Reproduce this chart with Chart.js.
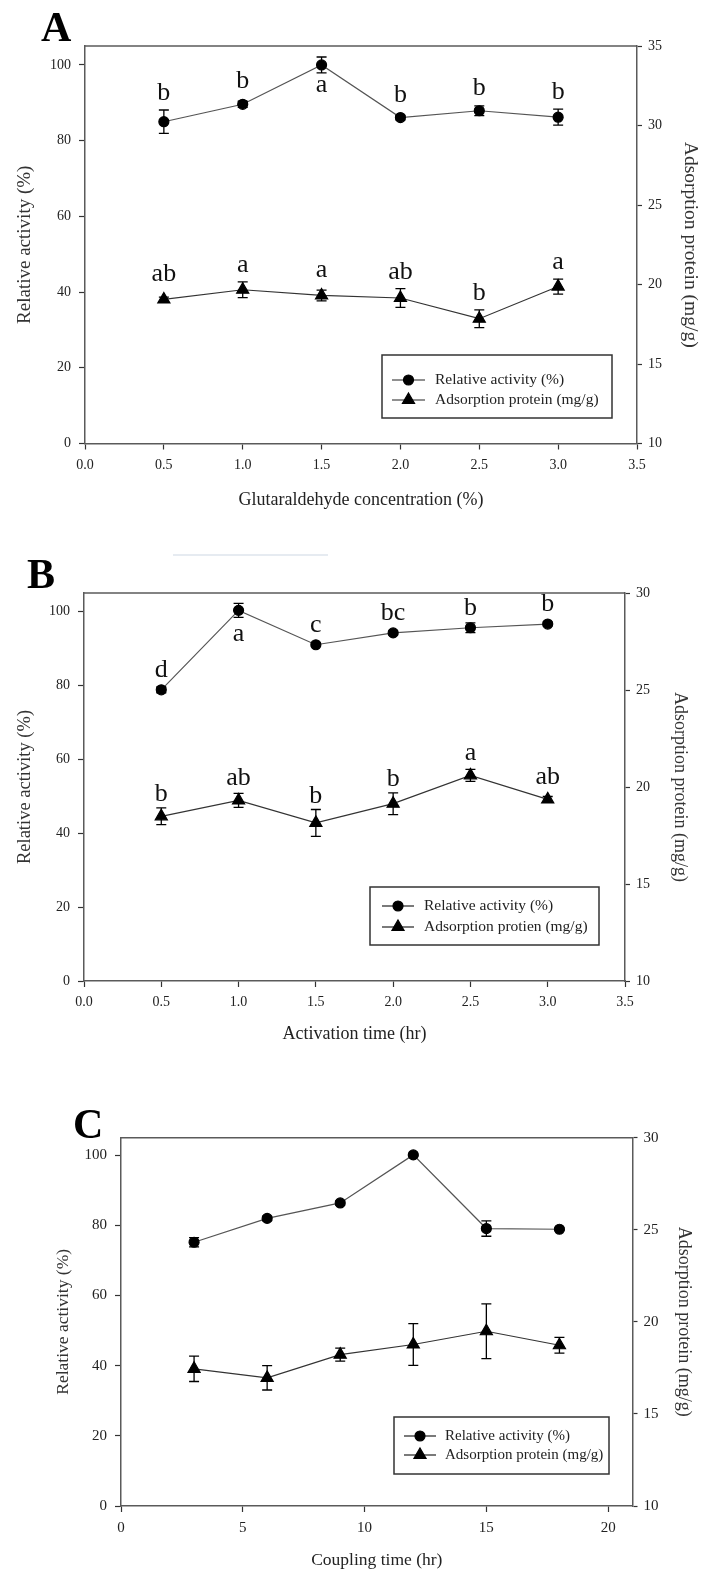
<!DOCTYPE html>
<html>
<head>
<meta charset="utf-8">
<title>Relative activity and adsorption protein</title>
<script src="https://cdn.jsdelivr.net/npm/chart.js@4.4.1/dist/chart.umd.min.js"></script>
<style>
  body { margin: 0; background: #fff; }
  #page { position: relative; width: 704px; height: 1571px; overflow: hidden; font-family: 'Liberation Serif', 'Times New Roman', serif; }
  canvas { position: absolute; left: 0; }
  .panel-label { position: absolute; font-weight: bold; font-size: 42px; line-height: 1; color: #000; }
  .smudge { position: absolute; left: 173px; top: 554px; width: 155px; height: 2px; background: #e6ebf1; }
</style>
</head>
<body>
<div id="page">
  <canvas id="chartA" width="704" height="530" style="top:0px"></canvas>
  <canvas id="chartB" width="704" height="510" style="top:540px"></canvas>
  <canvas id="chartC" width="704" height="511" style="top:1060px"></canvas>
  <div class="smudge"></div>
  <div class="panel-label" style="left:41px; top:6px">A</div>
  <div class="panel-label" style="left:27px; top:553px">B</div>
  <div class="panel-label" style="left:73px; top:1103px">C</div>
</div>
<script>
// Panel A - glutaraldehyde concentration
const concA = [0.5, 1.0, 1.5, 2.0, 2.5, 3.0];
const activityA = [85.0, 89.6, 100.0, 86.1, 87.9, 86.2];
const activityErrA = [3.1, 0.8, 2.1, 0.6, 1.3, 2.1];
const activityLetA = ['b', 'b', 'a', 'b', 'b', 'b'];
const proteinA = [19.06, 19.67, 19.31, 19.15, 17.85, 19.87];
const proteinErrA = [0.15, 0.49, 0.34, 0.59, 0.56, 0.47];
const proteinLetA = ['ab', 'a', 'a', 'ab', 'b', 'a'];

// Panel B - activation time
const timeB = [0.5, 1.0, 1.5, 2.0, 2.5, 3.0];
const activityB = [78.8, 100.3, 91.0, 94.2, 95.6, 96.6];
const activityErrB = [0.8, 1.9, 0.4, 0.5, 1.3, 0.5];
const activityLetB = ['d', 'a', 'c', 'bc', 'b', 'b'];
const proteinB = [18.49, 19.31, 18.15, 19.14, 20.6, 19.36];
const proteinErrB = [0.43, 0.36, 0.69, 0.56, 0.31, 0.15];
const proteinLetB = ['b', 'ab', 'b', 'b', 'a', 'ab'];

// Panel C - coupling time
const timeC = [3, 6, 9, 12, 15, 18];
const activityC = [75.2, 82.0, 86.4, 100.1, 79.1, 78.9];
const activityErrC = [1.3, 0.6, 0.6, 0.3, 2.2, 0.4];
const proteinC = [17.45, 16.96, 18.22, 18.77, 19.49, 18.73];
const proteinErrC = [0.69, 0.66, 0.35, 1.13, 1.49, 0.43];

const SERIF = "'Liberation Serif', 'Times New Roman', serif";
const AXIS_COLOR = '#5a5a5a';

function drawMarker(ctx, style, r, x, y) {
    if (Chart.helpers && Chart.helpers.drawPoint) {
        Chart.helpers.drawPoint(ctx, { pointStyle: style, radius: r, rotation: 0, borderWidth: 1 }, x, y);
        return;
    }
    ctx.beginPath();
    if (style === 'triangle') {
        ctx.moveTo(x, y - r);
        ctx.lineTo(x + r * 0.866, y + r / 2);
        ctx.lineTo(x - r * 0.866, y + r / 2);
        ctx.closePath();
    } else {
        ctx.arc(x, y, r, 0, Math.PI * 2);
    }
    ctx.fill();
    ctx.stroke();
}

const errorBars = {
    id: 'errorBars',
    afterDatasetsDraw(chart) {
        const ctx = chart.ctx;
        ctx.save();
        ctx.strokeStyle = '#000';
        ctx.lineWidth = 1.3;
        chart.data.datasets.forEach((ds, i) => {
            const meta = chart.getDatasetMeta(i);
            const yScale = chart.scales[ds.yAxisID];
            meta.data.forEach((pt, j) => {
                const v = ds.data[j].y, e = ds.errors[j];
                const top = yScale.getPixelForValue(v + e);
                const bot = yScale.getPixelForValue(v - e);
                ctx.beginPath();
                ctx.moveTo(pt.x, top); ctx.lineTo(pt.x, bot);
                ctx.moveTo(pt.x - 5, top); ctx.lineTo(pt.x + 5, top);
                ctx.moveTo(pt.x - 5, bot); ctx.lineTo(pt.x + 5, bot);
                ctx.stroke();
            });
        });
        ctx.restore();
    }
};

// significance letters, above the bar, or below it when there is no room at the top
const sigLetters = {
    id: 'sigLetters',
    afterDatasetsDraw(chart, args, o) {
        const ctx = chart.ctx;
        ctx.save();
        ctx.font = '26px ' + SERIF;
        ctx.fillStyle = '#111';
        ctx.textAlign = 'center';
        ctx.textBaseline = 'alphabetic';
        chart.data.datasets.forEach((ds, i) => {
            if (!ds.letters) return;
            const meta = chart.getDatasetMeta(i);
            const yScale = chart.scales[ds.yAxisID];
            const r = ds.pointRadius + 1;
            meta.data.forEach((pt, j) => {
                const v = ds.data[j].y, e = ds.errors[j];
                const top = Math.min(yScale.getPixelForValue(v + e), pt.y - r);
                if (top - chart.chartArea.top < 25) {
                    const bot = Math.max(yScale.getPixelForValue(v - e), pt.y + r);
                    ctx.fillText(ds.letters[j], pt.x, bot + o.gapBelow);
                } else {
                    ctx.fillText(ds.letters[j], pt.x, top - o.gapAbove);
                }
            });
        });
        ctx.restore();
    }
};

const frameTop = {
    id: 'frameTop',
    afterDraw(chart) {
        const a = chart.chartArea, ctx = chart.ctx;
        ctx.save();
        ctx.strokeStyle = AXIS_COLOR;
        ctx.lineWidth = 1.5;
        ctx.beginPath();
        ctx.moveTo(a.left, a.top);
        ctx.lineTo(a.right, a.top);
        ctx.stroke();
        ctx.restore();
    }
};

const boxLegend = {
    id: 'boxLegend',
    afterDraw(chart, args, o) {
        const ctx = chart.ctx;
        ctx.save();
        ctx.strokeStyle = '#333';
        ctx.lineWidth = 1.5;
        ctx.strokeRect(o.x, o.y, o.w, o.h);
        ctx.font = o.fontSize + 'px ' + SERIF;
        ctx.textBaseline = 'middle';
        ctx.textAlign = 'left';
        chart.data.datasets.forEach((ds, i) => {
            const y = o.y + o.rows[i];
            ctx.strokeStyle = '#222';
            ctx.lineWidth = 1.2;
            ctx.beginPath();
            ctx.moveTo(o.x + o.lineFrom, y);
            ctx.lineTo(o.x + o.lineTo, y);
            ctx.stroke();
            ctx.fillStyle = '#000';
            ctx.strokeStyle = '#000';
            drawMarker(ctx, ds.pointStyle, ds.pointRadius, o.x + (o.lineFrom + o.lineTo) / 2, y);
            ctx.fillStyle = '#222';
            ctx.fillText(ds.label, o.x + o.textX, y);
        });
        ctx.restore();
    }
};

function buildPanel(id, p) {
    const canvas = document.getElementById(id);
    const W = canvas.width, H = canvas.height;
    const tickFont = { family: SERIF, size: p.tickSize };

    const actSet = {
        label: 'Relative activity (%)',
        data: p.x.map((x, i) => ({ x: x, y: p.act[i] })),
        errors: p.actErr,
        letters: p.actLet,
        yAxisID: 'y',
        borderColor: '#555',
        borderWidth: 1.2,
        pointStyle: 'circle',
        pointRadius: 5,
        pointBackgroundColor: '#000',
        pointBorderColor: '#000',
        tension: 0
    };
    const protSet = {
        label: p.protLegend,
        data: p.x.map((x, i) => ({ x: x, y: p.prot[i] })),
        errors: p.protErr,
        letters: p.protLet,
        yAxisID: 'y1',
        borderColor: '#333',
        borderWidth: 1.2,
        pointStyle: 'triangle',
        pointRadius: 7,
        pointBackgroundColor: '#000',
        pointBorderColor: '#000',
        tension: 0
    };

    return new Chart(canvas, {
        type: 'line',
        data: { datasets: [actSet, protSet] },
        plugins: [errorBars, sigLetters, frameTop, boxLegend],
        options: {
            responsive: false,
            animation: false,
            devicePixelRatio: 1,
            layout: { padding: { top: p.area.top, left: 0, right: 0, bottom: 0 } },
            plugins: {
                legend: { display: false },
                tooltip: { enabled: false },
                boxLegend: p.legend,
                sigLetters: { gapAbove: p.gapAbove, gapBelow: p.gapBelow }
            },
            scales: {
                x: {
                    type: 'linear',
                    min: p.xMin, max: p.xMax,
                    ticks: {
                        stepSize: p.xStep, includeBounds: false, autoSkip: false, maxRotation: 0,
                        padding: 7, color: '#222', font: tickFont,
                        callback: v => p.xDigits ? v.toFixed(p.xDigits) : String(v)
                    },
                    grid: { drawOnChartArea: false, tickLength: 6, tickColor: '#333', tickWidth: 1.2 },
                    border: { color: AXIS_COLOR, width: 1.5 },
                    title: {
                        display: true, text: p.xTitle, color: '#222',
                        font: { family: SERIF, size: p.xTitleSize },
                        padding: { top: 0, bottom: p.xTitlePad }
                    },
                    afterFit: s => { s.height = H - p.area.bottom; }
                },
                y: {
                    position: 'left',
                    min: 0, max: 105,
                    ticks: { stepSize: 20, includeBounds: false, padding: 8, color: '#222', font: tickFont },
                    grid: { drawOnChartArea: false, tickLength: 6, tickColor: '#333', tickWidth: 1.2 },
                    border: { color: AXIS_COLOR, width: 1.5 },
                    title: {
                        display: true, text: 'Relative activity (%)', color: '#333',
                        font: { family: SERIF, size: p.leftTitleSize },
                        padding: { top: p.leftTitlePad, bottom: 0 }
                    },
                    afterFit: s => { s.width = p.area.left; }
                },
                y1: {
                    position: 'right',
                    min: 10, max: p.protMax,
                    ticks: { stepSize: 5, includeBounds: false, padding: 6, color: '#222', font: tickFont },
                    grid: { drawOnChartArea: false, tickLength: 5, tickColor: '#333', tickWidth: 1.2 },
                    border: { color: AXIS_COLOR, width: 1.5 },
                    title: {
                        display: true, text: 'Adsorption protein (mg/g)', color: '#333',
                        font: { family: SERIF, size: p.rightTitleSize },
                        padding: { top: p.rightTitlePad, bottom: 0 }
                    },
                    afterFit: s => { s.width = W - p.area.right; }
                }
            }
        }
    });
}

buildPanel('chartA', {
    x: concA, act: activityA, actErr: activityErrA, actLet: activityLetA,
    prot: proteinA, protErr: proteinErrA, protLet: proteinLetA,
    protLegend: 'Adsorption protein (mg/g)',
    xMin: 0, xMax: 3.5, xStep: 0.5, xDigits: 1, protMax: 35,
    xTitle: 'Glutaraldehyde concentration (%)',
    area: { left: 85, right: 637, top: 46, bottom: 443.5 },
    tickSize: 14, xTitleSize: 18, xTitlePad: 19, leftTitleSize: 19, leftTitlePad: 13.6,
    rightTitleSize: 19.5, rightTitlePad: 2.3, gapAbove: 10, gapBelow: 19,
    legend: { x: 382, y: 355, w: 230, h: 63, rows: [25, 45], lineFrom: 10, lineTo: 43, textX: 53, fontSize: 15.5 }
});

buildPanel('chartB', {
    x: timeB, act: activityB, actErr: activityErrB, actLet: activityLetB,
    prot: proteinB, protErr: proteinErrB, protLet: proteinLetB,
    protLegend: 'Adsorption protien (mg/g)',
    xMin: 0, xMax: 3.5, xStep: 0.5, xDigits: 1, protMax: 30,
    xTitle: 'Activation time (hr)',
    area: { left: 84, right: 625, top: 53, bottom: 441 },
    tickSize: 14, xTitleSize: 18, xTitlePad: 5, leftTitleSize: 18.5, leftTitlePad: 13.7,
    rightTitleSize: 18, rightTitlePad: 13, gapAbove: 7, gapBelow: 24,
    legend: { x: 370, y: 347, w: 229, h: 58, rows: [19, 40], lineFrom: 12, lineTo: 44, textX: 54, fontSize: 15.5 }
});

buildPanel('chartC', {
    x: timeC, act: activityC, actErr: activityErrC, actLet: null,
    prot: proteinC, protErr: proteinErrC, protLet: null,
    protLegend: 'Adsorption protein (mg/g)',
    xMin: 0, xMax: 21, xStep: 5, xDigits: 0, protMax: 30,
    xTitle: 'Coupling time (hr)',
    area: { left: 121, right: 632.5, top: 77.7, bottom: 446 },
    tickSize: 15, xTitleSize: 17.5, xTitlePad: 0.5, leftTitleSize: 17.5, leftTitlePad: 52.5,
    rightTitleSize: 18, rightTitlePad: 9, gapAbove: 10, gapBelow: 20,
    legend: { x: 394, y: 357, w: 215, h: 57, rows: [19, 38], lineFrom: 10, lineTo: 42, textX: 51, fontSize: 15 }
});
</script>
</body>
</html>
